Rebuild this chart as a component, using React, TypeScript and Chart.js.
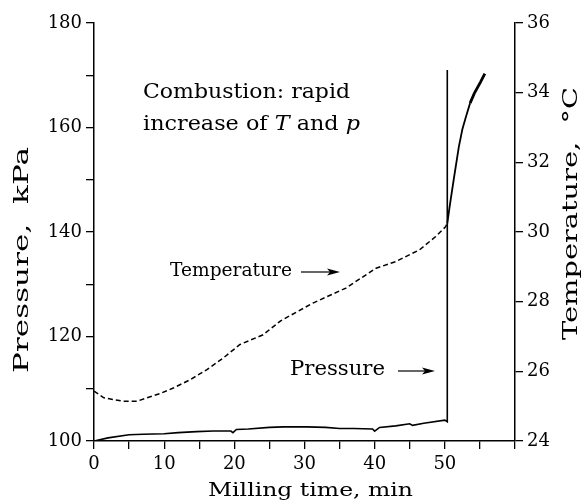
import { useEffect, useRef } from "react";
import { Chart, registerables } from "chart.js";

Chart.register(...registerables);

// ---- data ----
const pressureTime = [0, 2, 5, 7, 10, 12, 14.6, 17, 19.5, 19.8, 20.3, 22, 25, 27, 30.3, 33, 35, 37, 39.7, 40, 40.7, 43, 45, 45.4, 47, 50, 50.35, 50.35];
const pressureKPa = [100, 100.6, 101.2, 101.3, 101.4, 101.6, 101.8, 101.9, 101.9, 101.6, 102.2, 102.3, 102.6, 102.7, 102.7, 102.6, 102.4, 102.4, 102.3, 101.9, 102.6, 102.9, 103.3, 103.0, 103.4, 104.0, 103.7, 171];

const temperatureTime = [0, 1.4, 4.2, 6.1, 7.55, 9.4, 11.3, 13.7, 16.1, 18.4, 20.8, 24.1, 26.6, 31.2, 35.9, 40.2, 43.0, 46.4, 48.7, 50.1, 50.35, 50.7, 51.3, 52.0, 52.5, 53.0, 53.6, 54.2, 55.1, 55.7];
const temperatureC = [25.43, 25.24, 25.14, 25.14, 25.24, 25.36, 25.52, 25.76, 26.05, 26.38, 26.77, 27.05, 27.45, 27.96, 28.39, 28.96, 29.15, 29.49, 29.87, 30.15, 30.25, 30.75, 31.55, 32.45, 32.95, 33.3, 33.7, 33.98, 34.31, 34.55];

const combustionTime = 50.35;

const xTickStep = 5;
const xLabelStep = 10;
const pressureTickStep = 10;
const pressureLabelStep = 20;
const temperatureTickStep = 2;

const FONT = "DejaVu Serif";

type Part = [string, boolean];

// draws a run of text parts left-aligned at (x,y), fitted to a target width
function drawFitted(ctx: CanvasRenderingContext2D, parts: Part[], x: number, y: number, width: number, size: number) {
  let natural = 0;
  for (const [t, it] of parts) {
    ctx.font = `${it ? "italic " : ""}${size}px ${FONT}`;
    natural += ctx.measureText(t).width;
  }
  const k = width / natural;
  ctx.save();
  ctx.translate(x, y);
  ctx.scale(k, 1);
  ctx.textAlign = "left";
  ctx.textBaseline = "middle";
  let cx = 0;
  for (const [t, it] of parts) {
    ctx.font = `${it ? "italic " : ""}${size}px ${FONT}`;
    ctx.fillText(t, cx, 0);
    cx += ctx.measureText(t).width;
  }
  ctx.restore();
}

const titlesAndNotes = {
  id: "titlesAndNotes",
  afterDraw(chart: any) {
    const ctx = chart.ctx as CanvasRenderingContext2D;
    ctx.save();
    ctx.fillStyle = "#000";
    ctx.strokeStyle = "#000";

    // axis titles
    drawFitted(ctx, [["Milling time, min", false]], 208, 491, 205, 19);

    ctx.save();
    ctx.translate(23, 373);
    ctx.rotate(-Math.PI / 2);
    drawFitted(ctx, [["Pressure,  kPa", false]], 0, 0, 226, 20);
    ctx.restore();

    ctx.save();
    ctx.translate(572, 340);
    ctx.rotate(-Math.PI / 2);
    drawFitted(ctx, [["Temperature,  \u00B0C", false]], 0, 0, 253, 20);
    ctx.restore();

    // annotations
    drawFitted(ctx, [["Combustion: rapid", false]], 143, 93, 207, 20);
    drawFitted(ctx, [["increase of ", false], ["T", true], [" and ", false], ["p", true]], 143, 125, 217, 20);
    drawFitted(ctx, [["Temperature", false]], 170, 271, 122, 19);
    drawFitted(ctx, [["Pressure", false]], 290, 370, 95, 20);

    const arrow = (x1: number, x2: number, y: number) => {
      ctx.lineWidth = 1.2;
      ctx.beginPath();
      ctx.moveTo(x1, y);
      ctx.lineTo(x2 - 8, y);
      ctx.stroke();
      ctx.beginPath();
      ctx.moveTo(x2, y);
      ctx.lineTo(x2 - 13, y - 3.5);
      ctx.lineTo(x2 - 10, y);
      ctx.lineTo(x2 - 13, y + 3.5);
      ctx.closePath();
      ctx.fill();
    };
    arrow(301, 340, 272);
    arrow(398, 435, 371);

    ctx.restore();
  },
};

export default function App() {
  const ref = useRef<HTMLCanvasElement | null>(null);

  useEffect(() => {
    if (!ref.current) return;
    const tickFont = { family: FONT, size: 18 };
    const chart = new Chart(ref.current, {
      type: "line",
      data: {
        datasets: [
          {
            label: "Pressure",
            data: pressureTime.map((t, i) => ({ x: t, y: pressureKPa[i] })),
            yAxisID: "y",
            borderColor: "#000",
            borderWidth: 1.6,
            pointRadius: 0,
            tension: 0,
          },
          {
            label: "Temperature",
            data: temperatureTime.map((t, i) => ({ x: t, y: temperatureC[i] })),
            yAxisID: "y2",
            borderColor: "#000",
            borderWidth: 1.5,
            pointRadius: 0,
            tension: 0,
            segment: {
              borderDash: (c: any) => (c.p0.parsed.x < combustionTime ? [5, 3] : []),
              borderWidth: (c: any) => (c.p0.parsed.x > 53.5 ? 2.8 : c.p0.parsed.x < combustionTime ? 1.5 : 1.8),
            },
          } as any,
        ],
      },
      options: {
        animation: false,
        responsive: false,
        maintainAspectRatio: false,
        layout: { padding: { top: 23, left: 0, right: 0, bottom: 0 } },
        plugins: { legend: { display: false }, tooltip: { enabled: false } },
        scales: {
          x: {
            type: "linear",
            min: 0,
            max: 60,
            position: "bottom",
            afterFit: (s: any) => { s.height = 60; },
            ticks: {
              stepSize: xTickStep,
              autoSkip: false,
              maxRotation: 0,
              color: "#000",
              font: tickFont,
              padding: 5,
              callback: (v: any) => (v % xLabelStep === 0 && v < 60 ? String(v) : ""),
            },
            grid: { drawOnChartArea: false, drawTicks: true, tickLength: 8, color: "#000", lineWidth: 1.3 },
            border: { display: true, color: "#000", width: 1.5 },
          },
          y: {
            type: "linear",
            position: "left",
            min: 100,
            max: 180,
            afterFit: (s: any) => { s.width = 94; },
            ticks: {
              stepSize: pressureTickStep,
              color: "#000",
              font: tickFont,
              padding: 4,
              callback: (v: any) => (v % pressureLabelStep === 0 ? String(v) : ""),
            },
            grid: { drawOnChartArea: false, drawTicks: true, tickLength: 8, color: "#000", lineWidth: 1.3 },
            border: { display: true, color: "#000", width: 1.5 },
          },
          y2: {
            type: "linear",
            position: "right",
            min: 24,
            max: 36,
            afterFit: (s: any) => { s.width = 69; },
            ticks: {
              stepSize: temperatureTickStep,
              color: "#000",
              font: tickFont,
              padding: 4,
            },
            grid: { drawOnChartArea: false, drawTicks: true, tickLength: 8, color: "#000", lineWidth: 1.3 },
            border: { display: true, color: "#000", width: 1.5 },
          },
        },
      } as any,
      plugins: [titlesAndNotes],
    });
    return () => chart.destroy();
  }, []);

  return (
    <div style={{ position: "absolute", left: 0, top: 0, width: 584, height: 501, background: "#fff" }}>
      <canvas ref={ref} width={584} height={501} />
    </div>
  );
}
